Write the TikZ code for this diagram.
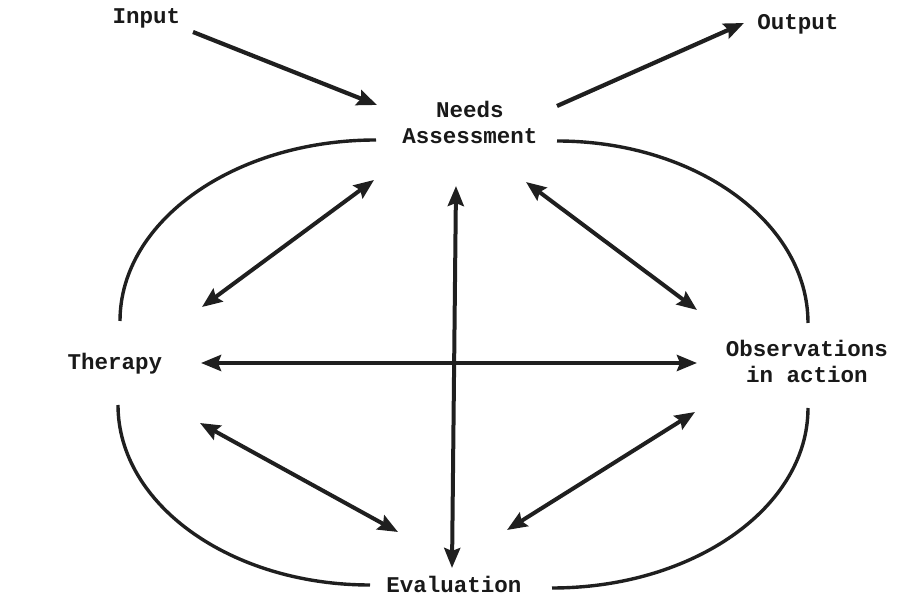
\documentclass[tikz,border=0pt]{standalone}
\usepackage{fontspec}
\newfontfamily\twfont{Liberation Mono}
\usetikzlibrary{arrows.meta}
\begin{document}
\begin{tikzpicture}[x=1pt,y=1pt,
  lbl/.style={font=\twfont\bfseries\fontsize{22.5}{26.5}\selectfont, inner sep=0pt, align=center, anchor=base, text=black!90},
  loop/.style={line width=3.4pt, draw=black!88},
  link/.style={line width=4pt, draw=black!88, {Stealth[length=20pt,width=16pt,inset=3pt]}-{Stealth[length=20pt,width=16pt,inset=3pt]}},
  flow/.style={line width=4.2pt, draw=black!88, -{Stealth[length=20pt,width=16pt,inset=3pt]}}]
\useasboundingbox (0,0) rectangle (906,597);
% labels
\node[lbl] (in) at (146.5,573) {Input};
\node[lbl] (out) at (798,567) {Output};
\node[lbl] (na) at (470,453) {Needs\\Assessment};
\node[lbl] (th) at (115,227) {Therapy};
\node[lbl] (ob) at (807,214) {Observations\\in action};
\node[lbl] (ev) at (454,4) {Evaluation};
% connector end points
\coordinate (in-s) at (193,565);
\coordinate (in-e) at (377,492);
\coordinate (out-s) at (557,491);
\coordinate (out-e) at (744,574);
\coordinate (na-th1) at (374,417);
\coordinate (na-th2) at (202,290);
\coordinate (na-ob1) at (526,415);
\coordinate (na-ob2) at (697,287);
\coordinate (na-ev1) at (456,411);
\coordinate (na-ev2) at (452,29);
\coordinate (th-ob1) at (201,234);
\coordinate (th-ob2) at (697,234);
\coordinate (th-ev1) at (200,174);
\coordinate (th-ev2) at (398,65);
\coordinate (ob-ev1) at (695,185);
\coordinate (ob-ev2) at (507,67);
% loop arc starts
\coordinate (tl) at (376,457);
\coordinate (tr) at (557,456);
\coordinate (bl) at (118,192);
\coordinate (br) at (552,9);
% loop
\draw[loop] (tl) arc[start angle=90,end angle=180,x radius=256,y radius=181];
\draw[loop] (tr) arc[start angle=90,end angle=0,x radius=251,y radius=182];
\draw[loop] (bl) arc[start angle=180,end angle=270,x radius=252,y radius=180];
\draw[loop] (br) arc[start angle=270,end angle=360,x radius=256,y radius=180];
% arrows
\draw[flow] (in-s) -- (in-e);
\draw[flow] (out-s) -- (out-e);
\draw[link] (na-th1) -- (na-th2);
\draw[link] (na-ob1) -- (na-ob2);
\draw[link] (na-ev1) -- (na-ev2);
\draw[link] (th-ob1) -- (th-ob2);
\draw[link] (th-ev1) -- (th-ev2);
\draw[link] (ob-ev1) -- (ob-ev2);
\end{tikzpicture}
\end{document}
